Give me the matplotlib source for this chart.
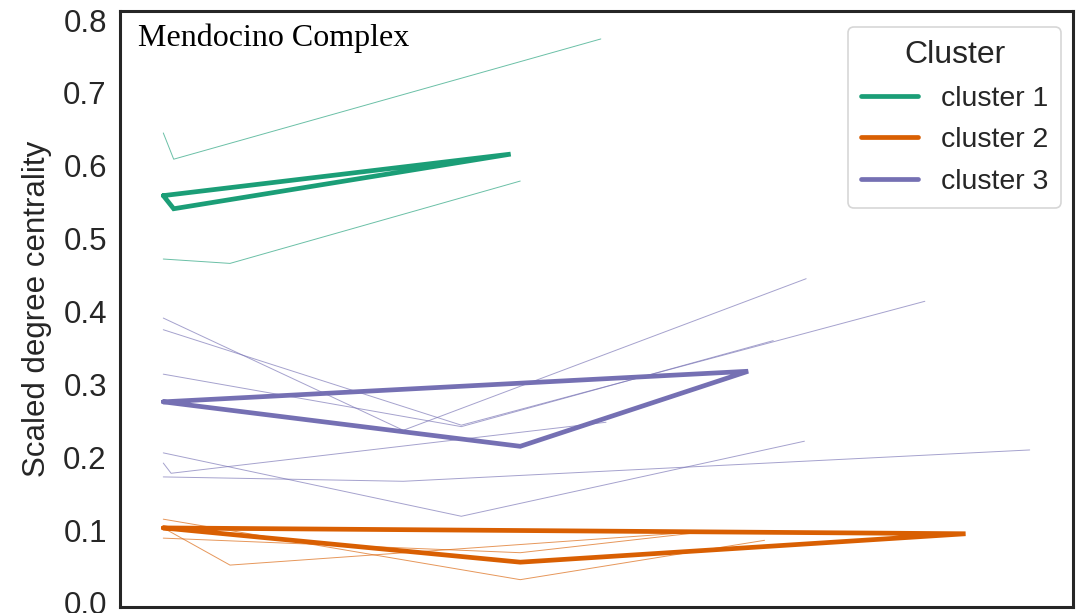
import matplotlib
matplotlib.use("Agg")
import matplotlib.pyplot as plt
import seaborn as sns

sns.set_style("white")
plt.rcParams["font.family"] = ["Liberation Sans", "DejaVu Sans"]

# Cluster colours (Dark2)
colors = {"cluster 1": "#1b9e77", "cluster 2": "#d95f02", "cluster 3": "#7570b3"}

# Individual trajectories per cluster (x = time step position, y = scaled degree centrality)
cluster1_x = [[0.0, 1.2, 50.5], [0.0, 7.7, 41.2]]
cluster1_y = [[0.645, 0.609, 0.774], [0.472, 0.466, 0.579]]

cluster2_x = [[0.0, 41.2, 69.4], [0.0, 41.2, 63.5], [0.0, 7.7, 63.5]]
cluster2_y = [[0.115, 0.032, 0.086], [0.089, 0.069, 0.099], [0.103, 0.052, 0.099]]

cluster3_x = [[0.0, 27.7, 74.2], [0.0, 34.4, 87.9], [0.0, 34.4, 70.4],
              [0.0, 34.4, 74.0], [0.0, 0.9, 51.1], [0.0, 27.7, 100.0]]
cluster3_y = [[0.391, 0.237, 0.445], [0.375, 0.244, 0.414], [0.314, 0.242, 0.360],
              [0.206, 0.119, 0.222], [0.192, 0.178, 0.248], [0.173, 0.167, 0.210]]

# Cluster mean trajectories (closed loop back to the first step)
mean1_x = [0.0, 40.1, 1.2, 0.0]
mean1_y = [0.559, 0.616, 0.541, 0.559]
mean2_x = [0.0, 92.6, 41.2, 0.0]
mean2_y = [0.103, 0.095, 0.056, 0.103]
mean3_x = [0.0, 67.5, 41.2, 0.0]
mean3_y = [0.276, 0.318, 0.215, 0.276]

members = {"cluster 1": (cluster1_x, cluster1_y),
           "cluster 2": (cluster2_x, cluster2_y),
           "cluster 3": (cluster3_x, cluster3_y)}
means = {"cluster 1": (mean1_x, mean1_y),
         "cluster 2": (mean2_x, mean2_y),
         "cluster 3": (mean3_x, mean3_y)}

fig = plt.figure(figsize=(10.76, 6.13), dpi=100)
ax = fig.add_axes([0.1115, 0.0098, 0.8857, 0.9723])

for name, (xs, ys) in members.items():
    for x, y in zip(xs, ys):
        ax.plot(x, y, color=colors[name], lw=0.7, alpha=0.65)

for name, (x, y) in means.items():
    ax.plot(x, y, color=colors[name], lw=3.4, solid_capstyle="round",
            solid_joinstyle="miter", label=name)

ax.set_ylim(-0.0055, 0.8124)
ax.set_yticks([0.0, 0.1, 0.2, 0.3, 0.4, 0.5, 0.6, 0.7, 0.8])
ax.set_xticks([])
ax.tick_params(axis="y", length=0, pad=9.5, labelsize=22.5, labelcolor="#262626")
ax.set_ylabel("Scaled degree centrality", fontsize=22.5, color="#262626", labelpad=8)

for sp in ax.spines.values():
    sp.set_color("#262626")
    sp.set_linewidth(2.2)

ax.text(0.0185, 0.942, "Mendocino Complex", transform=ax.transAxes,
        family="Liberation Serif", fontsize=23, color="black", va="baseline")

leg = ax.legend(title="Cluster", loc="upper right", fontsize=20.5,
                title_fontsize=23, frameon=True, fancybox=True,
                bbox_to_anchor=(0.9874, 0.973), borderaxespad=0.0,
                borderpad=0.45, handlelength=2.0, labelspacing=0.55,
                handletextpad=0.8)
leg.get_frame().set_edgecolor("#cccccc")
leg.get_frame().set_linewidth(1.2)
for t in leg.get_texts():
    t.set_color("#262626")
leg.get_title().set_color("#262626")

fig.savefig("out.png", dpi=100)
